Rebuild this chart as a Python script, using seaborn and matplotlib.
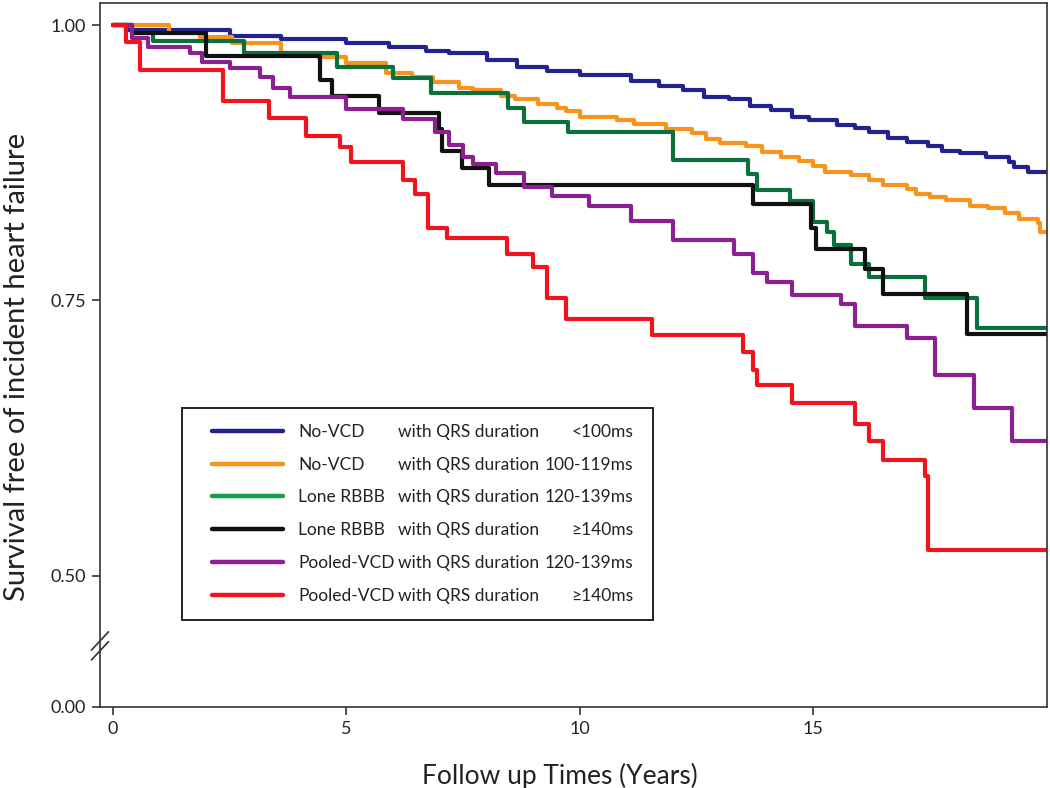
import pandas as pd
import seaborn as sns
import matplotlib.pyplot as plt
from matplotlib.lines import Line2D
from matplotlib.legend_handler import HandlerLine2D

# Kaplan-Meier steps: follow-up time (years) and survival after each step
blue_t = [0, 0.3, 2.5, 3.6, 5.0, 5.9, 6.7, 7.2, 8.0, 8.65, 9.3, 10.0, 11.1, 11.7, 12.2, 12.65, 13.2, 13.65,
          14.1, 14.55, 14.9, 15.5, 15.9, 16.2, 16.6, 17.0, 17.45, 17.75, 18.15, 18.7, 19.2, 19.3, 19.6, 20.0]
blue_s = [1.0, 0.996, 0.99, 0.987, 0.984, 0.98, 0.977, 0.975, 0.968, 0.962, 0.958, 0.955, 0.949, 0.945, 0.941,
          0.935, 0.933, 0.927, 0.923, 0.917, 0.914, 0.909, 0.907, 0.903, 0.898, 0.894, 0.89, 0.886, 0.884,
          0.88, 0.876, 0.871, 0.867, 0.867]

orange_t = [0, 1.2, 1.86, 2.55, 3.6, 4.4, 5.0, 5.85, 6.4, 6.85, 7.4, 7.7, 8.3, 8.6, 9.1, 9.5, 9.7, 10.0, 10.8,
            11.15, 11.85, 12.4, 12.7, 13.0, 13.55, 13.9, 14.3, 14.7, 15.0, 15.25, 15.8, 16.2, 16.5, 17.0, 17.2,
            17.5, 17.85, 18.35, 18.75, 19.1, 19.4, 19.8, 19.85, 20.0]
orange_s = [1.0, 0.993, 0.989, 0.984, 0.975, 0.971, 0.966, 0.957, 0.953, 0.948, 0.943, 0.941, 0.936, 0.933,
            0.928, 0.925, 0.922, 0.917, 0.914, 0.91, 0.906, 0.902, 0.897, 0.893, 0.89, 0.885, 0.88, 0.877,
            0.872, 0.867, 0.864, 0.859, 0.855, 0.851, 0.847, 0.844, 0.841, 0.836, 0.834, 0.829, 0.824, 0.82,
            0.812, 0.812]

green_t = [0, 0.4, 0.86, 2.8, 4.8, 6.0, 6.8, 8.45, 8.8, 9.75, 12.0, 13.6, 13.8, 14.5, 15.0, 15.3, 15.45,
           15.8, 16.2, 17.4, 18.5, 20.0]
green_s = [1.0, 0.993, 0.986, 0.975, 0.962, 0.952, 0.938, 0.925, 0.912, 0.903, 0.878, 0.865, 0.85, 0.84,
           0.821, 0.812, 0.80, 0.783, 0.771, 0.752, 0.725, 0.725]

black_t = [0, 0.4, 2.0, 4.43, 4.7, 5.7, 6.98, 7.05, 7.47, 8.05, 13.7, 14.95, 15.05, 16.1, 16.5, 18.3, 20.0]
black_s = [1.0, 0.993, 0.972, 0.95, 0.936, 0.92, 0.906, 0.886, 0.87, 0.855, 0.838, 0.816, 0.797, 0.779,
           0.756, 0.72, 0.72]

purple_t = [0, 0.4, 0.75, 1.65, 1.9, 2.5, 3.15, 3.43, 3.8, 5.0, 6.2, 6.9, 7.2, 7.5, 7.7, 8.2, 8.8, 9.4, 10.2,
            11.1, 12.0, 13.3, 13.7, 14.0, 14.55, 15.6, 15.9, 17.0, 17.6, 18.45, 19.25, 20.0]
purple_s = [1.0, 0.988, 0.98, 0.975, 0.967, 0.961, 0.953, 0.943, 0.935, 0.924, 0.915, 0.903, 0.891, 0.88,
            0.874, 0.866, 0.853, 0.845, 0.836, 0.822, 0.805, 0.792, 0.775, 0.767, 0.755, 0.747, 0.727, 0.716,
            0.682, 0.652, 0.622, 0.622]

red_t = [0, 0.28, 0.58, 2.36, 3.35, 4.13, 4.86, 5.1, 6.2, 6.47, 6.75, 7.15, 8.43, 9.0, 9.3, 9.7, 11.55, 13.5,
         13.7, 13.8, 14.55, 15.9, 16.2, 16.5, 17.4, 17.45, 20.0]
red_s = [1.0, 0.985, 0.959, 0.931, 0.916, 0.899, 0.889, 0.876, 0.859, 0.847, 0.816, 0.807, 0.792, 0.78, 0.752,
         0.733, 0.719, 0.703, 0.687, 0.673, 0.657, 0.638, 0.622, 0.605, 0.591, 0.523, 0.523]

groups = ["No-VCD", "No-VCD", "Lone RBBB", "Lone RBBB", "Pooled-VCD", "Pooled-VCD"]
durations = ["<100ms", "100-119ms", "120-139ms", "\u2265140ms", "120-139ms", "\u2265140ms"]
curve_colors = ["#23238f", "#f7941d", "#0b703b", "#111111", "#8b2090", "#f0141e"]
legend_colors = ["#23238f", "#f7941d", "#14a04a", "#111111", "#8b2090", "#f0141e"]

y_ticks = [0.50, 0.75, 1.00]
y_labels = ["0.00", "0.50", "0.75", "1.00"]
x_ticks = [0, 5, 10, 15]

# long-form table
curves = [(blue_t, blue_s), (orange_t, orange_s), (green_t, green_s),
          (black_t, black_s), (purple_t, purple_s), (red_t, red_s)]
frames = []
for i, (t, s) in enumerate(curves):
    key = f"{groups[i]} {durations[i]}"
    frames.append(pd.DataFrame({"curve": key, "time": t, "surv": s}))
df = pd.concat(frames, ignore_index=True)
keys = [f"{g} {d}" for g, d in zip(groups, durations)]
palette = dict(zip(keys, curve_colors))

sns.set_style("ticks")
plt.rcParams["font.family"] = ["Lato", "DejaVu Sans"]

fig, ax = plt.subplots(figsize=(10.5, 7.88), dpi=100)
fig.subplots_adjust(left=0.0952, right=0.997, top=0.996, bottom=0.103)

sns.lineplot(data=df, x="time", y="surv", hue="curve", hue_order=keys, palette=palette,
             estimator=None, sort=False, drawstyle="steps-post", linewidth=3.0, legend=False, ax=ax)

# axis limits: bottom of the axis stands for 0.00 (broken axis)
y_bottom = 0.381
ax.set_xlim(-0.28, 20.0)
ax.set_ylim(y_bottom, 1.02)
ax.set_yticks([y_bottom] + y_ticks)
ax.set_yticklabels(y_labels)
ax.set_xticks(x_ticks)

for side in ["left", "bottom", "top", "right"]:
    ax.spines[side].set_visible(True)
    ax.spines[side].set_color("#333333")
    ax.spines[side].set_linewidth(1.2)
ax.tick_params(direction="out", length=6, width=1.2, color="#333333", labelsize=13,
               labelcolor="#222222", pad=4)

ax.set_xlabel("Follow up Times (Years)", fontsize=19, color="#222222")
ax.set_ylabel("Survival free of incident heart failure", fontsize=21, color="#222222")
ax.xaxis.set_label_coords(0.486, -0.079)
ax.yaxis.set_label_coords(-0.074, 0.483)

# break marks on the y axis
for dy in (-0.007, 0.007):
    ax.plot([-0.009, 0.009], [0.0866 + dy - 0.013, 0.0866 + dy + 0.013], transform=ax.transAxes,
            color="#333333", linewidth=1.2, clip_on=False)

# legend with three text columns
fs = 12.5
handles = [Line2D([], [], color=c, linewidth=3.2) for c in legend_colors]
leg = ax.legend(handles, groups, loc="upper left", bbox_to_anchor=(0.0866, 0.425, 0.497, 0.0),
                mode="expand", borderaxespad=0, fontsize=fs, handlelength=4.9, handletextpad=0.86,
                labelspacing=0.97, borderpad=0.92, frameon=True, fancybox=False, framealpha=1,
                handler_map={Line2D: HandlerLine2D(xpad=0.81)})
leg.get_frame().set_edgecolor("#222222")
leg.get_frame().set_linewidth(1.4)
for t in leg.get_texts():
    t.set_color("#222222")

fig.canvas.draw()
renderer = fig.canvas.get_renderer()
fb = leg.get_frame().get_window_extent(renderer)
inv = fig.transFigure.inverted()
for t, dur in zip(leg.get_texts(), durations):
    bb = t.get_window_extent(renderer)
    ym = (bb.y0 + bb.y1) / 2
    x1, y1 = inv.transform((fb.x0 + 216, ym))
    x2, _ = inv.transform((fb.x1 - 19, ym))
    fig.text(x1, y1, "with QRS duration", fontsize=fs, color="#222222", va="center", ha="left")
    fig.text(x2, y1, dur, fontsize=fs, color="#222222", va="center", ha="right")

fig.savefig("out.png", dpi=100)
